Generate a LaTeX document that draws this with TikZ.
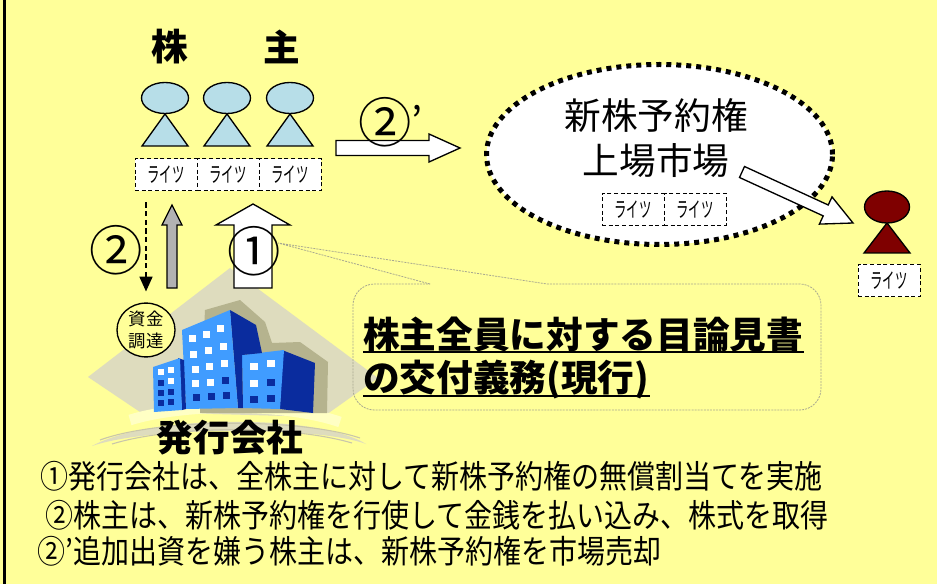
\documentclass[tikz,border=0pt]{standalone}
\usepackage{fontspec}
\usepackage{graphicx}
\newfontfamily\jp{Noto Sans CJK JP}
\usetikzlibrary{arrows.meta,shapes.geometric}
\definecolor{bg}{HTML}{FFFF99}
\definecolor{headblue}{HTML}{B7DEE8}
\definecolor{darkred}{HTML}{7F0000}
\definecolor{beige}{HTML}{DEDCBE}
\definecolor{olive}{HTML}{B5B38E}
\definecolor{lightband}{HTML}{FFFFC4}
\definecolor{swooshline}{HTML}{C9C6AA}
\definecolor{facelight}{HTML}{409CFF}
\definecolor{facedark}{HTML}{0A2C9E}
\definecolor{arrowgray}{HTML}{B2B2B2}
\definecolor{calloutline}{HTML}{A8A890}
\newcommand{\rightslabel}{\scalebox{0.58}[1]{ライツ}}
\tikzset{
  rights/.style={draw, dash pattern=on 3pt off 2pt, line width=0.75pt, fill=white,
    minimum width=46.5pt, minimum height=24pt, inner sep=0pt,
    font=\jp\fontsize{16}{16}\selectfont},
  blockarrow/.style={draw=black, line width=1pt, fill=white, line join=miter},
  person/.style={draw=black, line width=1pt},
  bigbold/.style={font=\jp\bfseries\fontsize{27.5}{27.5}\selectfont, inner sep=0pt},
  circled/.style={font=\jp\fontsize{40}{40}\selectfont, inner sep=0pt},
  note/.style={font=\jp\fontsize{21}{21}\selectfont, anchor=west, inner sep=0pt},
  callout/.style={draw=calloutline, line width=0.6pt, dash pattern=on 1.5pt off 0.8pt},
  win/.style={fill=white},
  windark/.style={fill=facedark}
}
\begin{document}
\begin{tikzpicture}[x=0.75pt,y=-0.75pt]
\useasboundingbox (0,0) rectangle (937,584);
\fill[bg] (0,0) rectangle (937,584);
\draw[line width=2.25pt] (4,0) -- (4,584);

% ---- issuing company emblem: backdrop diamond and swooshes ----
\fill[beige] (88,377) -- (230,268) -- (378,378) -- (323,417) -- (140,412) -- cycle;
\fill[beige] (92,446) .. controls (150,414) and (318,414) .. (366,444)
  .. controls (318,426) and (150,426) .. cycle;
\draw[lightband, line width=8pt] (130,420) .. controls (185,403) and (285,403) .. (340,422);
\draw[swooshline, line width=0.8pt] (100,440) .. controls (160,418) and (300,418) .. (360,438);
\draw[swooshline, line width=0.8pt] (112,444) .. controls (175,425) and (290,425) .. (352,443);

% shadow behind the buildings
\fill[olive] (205,310) -- (240,300) -- (265,322) -- (272,343) -- (300,342)
  -- (328,362) -- (327,413) -- (200,413) -- cycle;

% right building
\fill[facedark] (282,350) -- (315,363) -- (313,413) -- (280,409) -- cycle;
\fill[facelight] (242,355) -- (284,350) -- (280,409) -- (243,408) -- cycle;
% middle building
\fill[facedark] (230,310) -- (256,325) -- (262,353) -- (242,355) -- (243,408) -- (238,408) -- cycle;
\fill[facelight] (182,330) -- (230,310) -- (238,408) -- (186,409) -- cycle;
% left building
\fill[facedark] (178,358) -- (184,360) -- (186,409) -- (182,410) -- cycle;
\fill[facelight] (153,367) -- (180,358) -- (182,410) -- (154,412) -- cycle;

% windows, middle building
\foreach \x/\y/\s in {192/338/win,206/334/win,220/328/win,
                      193/354/win,208/350/win,223/346/win,
                      195/369/win,209/366/win,224/363/win,
                      195/383/win,210/382/win,225/380/windark,
                      196/397/windark,211/396/windark,226/395/windark}
  \path[\s] (\x-3.5,\y-3.5) rectangle (\x+3.5,\y+3.5);
% windows, left building
\foreach \x/\y/\s in {161/372/win,171/370/win,
                      161/383/windark,171/381/win,
                      161/393/windark,171/392/windark,
                      161/403/windark,171/402/windark}
  \path[\s] (\x-2.7,\y-2.7) rectangle (\x+2.7,\y+2.7);
% windows, right building
\foreach \x/\y/\s in {254/366/win,271/363/win,
                      254/383/win,271/382/windark,
                      254/399/windark,271/398/windark}
  \path[\s] (\x-4,\y-3.5) rectangle (\x+4,\y+3.5);

\node[bigbold] (issuer) at (230,438) {発行会社};

% ---- callout ----
\draw[callout] (430,284) -- (278,243) -- (547,284);
\draw[callout, rounded corners=16pt] (547,284) -- (821,284) -- (821,410) -- (353,410) -- (353,284) -- (430,284);
\node[bigbold, anchor=west] (cl1) at (363,335) {株主全員に対する目論見書};
\node[bigbold, anchor=west] (cl2) at (363,380) {の交付義務(現行)};
\coordinate (ul1) at (0,352);
\coordinate (ul2) at (0,396);
\draw[line width=2.2pt] (cl1.west |- ul1) -- (cl1.east |- ul1);
\draw[line width=2.2pt] (cl2.west |- ul2) -- (cl2.east |- ul2);

% ---- shareholders ----
\node[bigbold] (t1) at (170,47) {株};
\node[bigbold] (t2) at (282,47) {主};
\foreach \x in {165,227,290} {
  \draw[person, fill=headblue] (\x-23,146) -- (\x,114) -- (\x+23,146) -- cycle;
  \draw[person, fill=headblue] (\x,98) ellipse [x radius=23.5, y radius=15.5];
}
\node[rights] (r1) at (166,175) {\rightslabel};
\node[rights] (r2) at (228,175) {\rightslabel};
\node[rights] (r3) at (290,175) {\rightslabel};

% ---- market ----
\node[draw, ellipse, line width=3.75pt, dash pattern=on 3.75pt off 3.75pt, fill=white,
  minimum width=259.5pt, minimum height=135pt, inner sep=0pt] (market) at (659.5,154.5) {};
\node[font=\jp\fontsize{27.5}{33.75}\selectfont, align=center, inner sep=0pt] (mkttext) at (656,138) {新株予約権\\上場市場};
\node[rights] (m1) at (633,209.5) {\rightslabel};
\node[rights] (m2) at (695,209.5) {\rightslabel};

% ---- buyer ----
\draw[person, fill=darkred] (864,253) -- (887,223) -- (910,253) -- cycle;
\draw[person, fill=darkred] (887,207) ellipse [x radius=22.5, y radius=16];
\node[rights] (b1) at (889,280.5) {\rightslabel};

% ---- funding ----
\node[draw, ellipse, line width=1pt, fill=bg, minimum width=43.5pt, minimum height=37pt,
  inner sep=0pt, align=center, font=\jp\fontsize{13}{16.5}\selectfont] (fund) at (146,330) {資金\\調達};
\draw[line width=1pt, dash pattern=on 4pt off 2.5pt, shorten <=8.25pt, shorten >=8.25pt,
  -{Triangle[width=9.75pt,length=11pt]}] (r1.south -| fund.north) -- (fund.north);

% ---- block arrows ----
\draw[blockarrow, fill=arrowgray] (167,288) -- (167,225) -- (162,225) -- (172,205)
  -- (182,225) -- (177,225) -- (177,288) -- cycle;
\draw[blockarrow] (234,288) -- (234,225) -- (216,225) -- (253,204) -- (290,225)
  -- (272,225) -- (272,288) -- cycle;
\draw[blockarrow] (336,140.5) -- (429,140.5) -- (429,134) -- (460,148) -- (429,162)
  -- (429,155.5) -- (336,155.5) -- cycle;
\draw[blockarrow] (744.5,166.5) -- (828.2,205.0) -- (832.0,196.9) -- (853,223)
  -- (819.4,224.1) -- (823.2,215.9) -- (739.5,177.5) -- cycle;

% ---- step labels ----
\node[circled] (lab1) at (254,251) {①};
\node[circled] (lab2) at (116,250) {②};
\node[circled, anchor=west] (lab2b) at (358,122) {②{\fontsize{30}{30}\selectfont\raisebox{4pt}{’}}};

% ---- notes ----
\node[note] (n1) at (40,476) {\scalebox{1}[1.15]{①発行会社は、全株主に対して新株予約権の無償割当てを実施}};
\node[note] (n2) at (45,515) {\scalebox{1}[1.15]{②株主は、新株予約権を行使して金銭を払い込み、株式を取得}};
\node[note] (n3) at (37,551) {\scalebox{1}[1.15]{②’追加出資を嫌う株主は、新株予約権を市場売却}};
\end{tikzpicture}
\end{document}
